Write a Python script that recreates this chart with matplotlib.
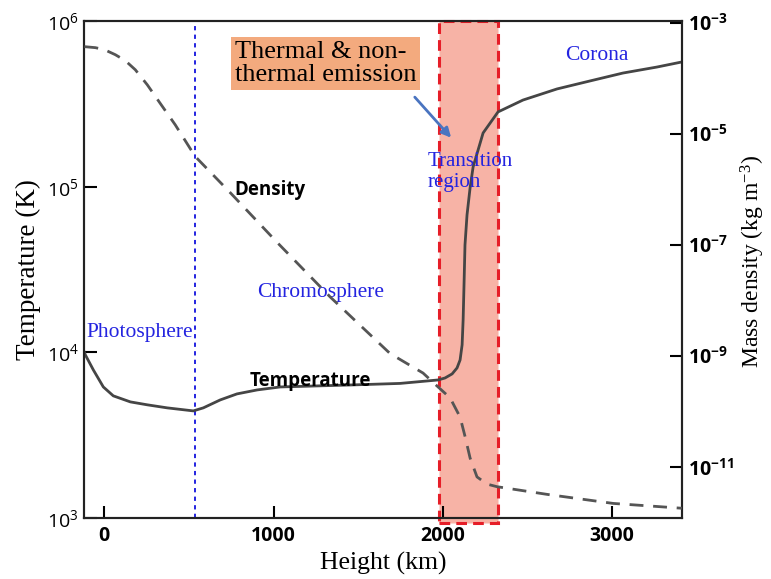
import matplotlib
matplotlib.use("Agg")
import matplotlib.pyplot as plt

# ---- data ----
height_T = [-118, -112, -65, -6, 53, 154, 254, 372, 526, 585, 685, 784, 904, 1040,
            1453, 1748, 1973, 2014, 2056, 2085, 2103, 2115, 2121, 2127, 2132, 2144,
            2162, 2180, 2239, 2327, 2475, 2676, 2871, 3066, 3267, 3414]
temperature = [10000, 9640, 7830, 6180, 5460, 5020, 4820, 4620, 4430, 4620, 5160, 5610,
               5930, 6180, 6350, 6490, 6810, 7000, 7410, 8050, 8990, 11100, 15700,
               27400, 44500, 67500, 98200, 131500, 210900, 282500, 333400, 389000,
               434700, 485300, 527500, 566000]

height_rho = [-118, -53, 0, 65, 124, 183, 254, 331, 419, 537, 744, 1022, 1335, 1689,
              1884, 1973, 2044, 2103, 2133, 2162, 2203, 2262, 2321, 2617, 3007, 3414]
density = [3.7e-4, 3.55e-4, 3.27e-4, 2.65e-4, 2.07e-4, 1.42e-4, 7.6e-5, 3.5e-5, 1.45e-5,
           3.9e-6, 8.7e-7, 1.1e-7, 1.15e-8, 1.1e-9, 4.9e-10, 2.75e-10, 1.75e-10,
           7.9e-11, 3.47e-11, 1.45e-11, 6.6e-12, 4.9e-12, 4.4e-12, 3.2e-12, 2.2e-12,
           1.8e-12]

x_ticks = [0, 1000, 2000, 3000]
t_ticks = [1e3, 1e4, 1e5, 1e6]
t_labels = [r"$\mathregular{10^{3}}$", r"$\mathregular{10^{4}}$",
            r"$\mathregular{10^{5}}$", r"$\mathregular{10^{6}}$"]
rho_ticks = [1e-11, 1e-9, 1e-7, 1e-5, 1e-3]
rho_labels = [r"$\mathregular{10^{-11}}$", r"$\mathregular{10^{-9}}$",
              r"$\mathregular{10^{-7}}$", r"$\mathregular{10^{-5}}$",
              r"$\mathregular{10^{-3}}$"]

photosphere_top = 537
tr_start, tr_end = 1979, 2327

plt.rcParams['mathtext.default'] = 'regular'
plt.rcParams['font.family'] = ['Open Sans', 'DejaVu Sans']

SERIF = ['Liberation Serif', 'DejaVu Serif']
BLUE = '#2424e0'

fig = plt.figure(figsize=(7.71, 5.79), dpi=100)
ax = fig.add_axes([0.109, 0.1054, 0.7756, 0.8583])
ax2 = ax.twinx()

ax.set_xlim(-120, 3415)
ax.set_yscale('log')
ax.set_ylim(1e3, 1e6)
ax2.set_yscale('log')
ax2.set_ylim(10 ** -11.92, 10 ** -2.97)

# transition region band
ax.axvspan(tr_start, tr_end, ymin=-0.01, ymax=1.0, facecolor='#f7b3a6',
           edgecolor='#e61e28', linestyle=(0, (3.5, 2)), linewidth=2.2,
           clip_on=False, zorder=1)
# photosphere boundary
ax.axvline(photosphere_top, color=BLUE, linestyle=(0, (2.2, 2.2)), linewidth=1.4, zorder=2)

ax.plot(height_T, temperature, color='#454545', linewidth=2.0, zorder=3,
        solid_joinstyle='round')
ax2.plot(height_rho, density, color='#555555', linewidth=2.0,
         linestyle=(0, (5, 3.5)), zorder=3)

# ticks
ax.set_xticks(x_ticks)
ax.set_xticklabels([str(v) for v in x_ticks], fontweight='bold')
ax.set_yticks(t_ticks)
ax.set_yticklabels(t_labels)
ax.yaxis.set_minor_locator(matplotlib.ticker.NullLocator())
ax2.set_yticks(rho_ticks)
ax2.set_yticklabels(rho_labels, fontweight='bold')
ax2.yaxis.set_minor_locator(matplotlib.ticker.NullLocator())
ax.tick_params(axis='x', direction='in', length=9, width=1.5, labelsize=14, pad=6)
ax.tick_params(axis='y', direction='in', length=9, width=1.5, labelsize=14, pad=4)
ax2.tick_params(axis='y', direction='in', length=9, width=1.5, labelsize=14, pad=4)

for a in (ax, ax2):
    for s in a.spines.values():
        s.set_linewidth(1.5)
        s.set_color('#222222')

ax.set_xlabel('Height (km)', family=SERIF, fontsize=18.5, labelpad=4)
ax.set_ylabel('Temperature (K)', family=SERIF, fontsize=19.5, labelpad=4)
fig.text(753 / 771, 1 - 262 / 579, r'Mass density (kg m$^{-3}$)', family=SERIF,
         fontsize=17, rotation=90, ha='center', va='center')

# annotations
ax.text(0.311, 0.660, 'Density', transform=ax.transAxes, ha='center', va='center',
        fontsize=13.5, fontweight='bold')
ax.text(0.378, 0.276, 'Temperature', transform=ax.transAxes, ha='center', va='center',
        fontsize=13.5, fontweight='bold')
ax.text(0.396, 0.453, 'Chromosphere', transform=ax.transAxes, ha='center', va='center',
        fontsize=15.5, family=SERIF, color=BLUE)
ax.text(0.094, 0.374, 'Photosphere', transform=ax.transAxes, ha='center', va='center',
        fontsize=15.5, family=SERIF, color=BLUE)
ax.text(0.574, 0.696, 'Transition\nregion', transform=ax.transAxes, ha='left', va='center',
        fontsize=15, family=SERIF, color=BLUE, linespacing=1.1, zorder=4)
ax.text(0.858, 0.930, 'Corona', transform=ax.transAxes, ha='center', va='center',
        fontsize=15.5, family=SERIF, color=BLUE)

ax.text(0.2525, 0.915, 'Thermal & non-\nthermal emission', transform=ax.transAxes,
        ha='left', va='center', fontsize=19, family=SERIF, linespacing=1.05,
        bbox=dict(boxstyle='square,pad=0.15', facecolor='#f3aa7e', edgecolor='none'),
        zorder=5)
ax.annotate('', xy=(0.617, 0.761), xytext=(0.550, 0.851), xycoords='axes fraction',
            arrowprops=dict(arrowstyle='-|>', color='#4a74c0', lw=2.0,
                            mutation_scale=14), zorder=5)

fig.savefig('out.png', dpi=100)
